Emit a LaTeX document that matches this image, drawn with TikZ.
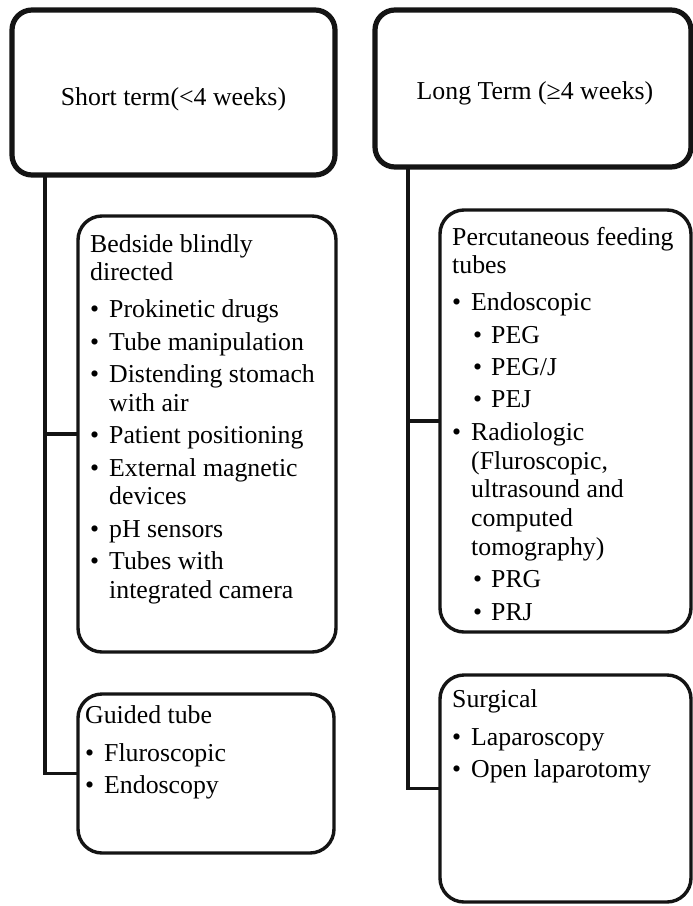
\documentclass[tikz,border=0pt]{standalone}
\usepackage{fontspec}
\setmainfont{Liberation Serif}
% bullet entry, continuation line and nested bullet for the box lists
\newcommand\bitem[1]{\makebox[19pt][l]{\textbullet}#1}
\newcommand\bcont[1]{\hspace*{19pt}#1}
\newcommand\bsub[1]{\hspace*{21pt}\makebox[18pt][l]{\textbullet}#1}
\begin{document}
\begin{tikzpicture}[x=1pt,y=-1pt,
  topbox/.style={draw=black!92, line width=5.2pt, rounded corners=20pt,
    inner sep=0pt, outer sep=0pt, anchor=north west, fill=white},
  subbox/.style={draw=black!92, line width=3.4pt, rounded corners=24pt,
    inner sep=0pt, outer sep=0pt, anchor=north west, fill=white},
  conn/.style={draw=black!92, line width=3.2pt},
  heading/.style={anchor=base, inner sep=0pt, font=\fontsize{25.8}{29}\selectfont},
  listtext/.style={anchor=base west, inner sep=0pt, font=\fontsize{25.8}{28.8}\selectfont}]

\fill[white] (0,0) rectangle (693,906);
\useasboundingbox (0,0) rectangle (693,906);

% trunk positions of the two columns
\coordinate (lx) at (45,0);
\coordinate (rx) at (408,0);

% column heads
\node[topbox, minimum width=323pt, minimum height=165pt] (st) at (12,10) {};
\node[topbox, minimum width=316pt, minimum height=157pt] (lt) at (375,10) {};

% option boxes
\node[subbox, minimum width=258pt, minimum height=436pt] (bed) at (78,216) {};
\node[subbox, minimum width=256pt, minimum height=159pt] (gui) at (78,694) {};
\node[subbox, minimum width=251pt, minimum height=422pt] (per) at (440,210) {};
\node[subbox, minimum width=251pt, minimum height=227pt] (sur) at (440,675) {};

% connectors
\draw[conn] (lx |- st.south) |- (gui.west);
\draw[conn] (lx |- bed.west) -- (bed.west);
\draw[conn] (rx |- lt.south) |- (sur.west);
\draw[conn] (rx |- per.west) -- (per.west);

% headings
\node[heading] (sttext) at (173.5,105) {Short term(<4 weeks)};
\node[heading] (lttext) at (535,99) {Long Term (≥4 weeks)};

% lists
\node[listtext] (bedtext) at (90,252) {\begin{tabular}[t]{@{}l@{}}
Bedside blindly\\
directed\\[8pt]
\bitem{Prokinetic drugs}\\[3.6pt]
\bitem{Tube manipulation}\\[3.6pt]
\bitem{Distending stomach}\\
\bcont{with air}\\[3.6pt]
\bitem{Patient positioning}\\[3.6pt]
\bitem{External magnetic}\\
\bcont{devices}\\[3.6pt]
\bitem{pH sensors}\\[3.6pt]
\bitem{Tubes with}\\
\bcont{integrated camera}
\end{tabular}};

\node[listtext] (guitext) at (85,723) {\begin{tabular}[t]{@{}l@{}}
Guided tube\\[10pt]
\bitem{Fluroscopic}\\[3pt]
\bitem{Endoscopy}
\end{tabular}};

\node[listtext] (pertext) at (452,245) {\begin{tabular}[t]{@{}l@{}}
Percutaneous feeding\\
tubes\\[8pt]
\bitem{Endoscopic}\\[3.6pt]
\bsub{PEG}\\[3.6pt]
\bsub{PEG/J}\\[3.6pt]
\bsub{PEJ}\\[3.6pt]
\bitem{Radiologic}\\
\bcont{(Fluroscopic,}\\
\bcont{ultrasound and}\\
\bcont{computed}\\
\bcont{tomography)}\\[3.6pt]
\bsub{PRG}\\[3.6pt]
\bsub{PRJ}
\end{tabular}};

\node[listtext] (surtext) at (452,707) {\begin{tabular}[t]{@{}l@{}}
Surgical\\[10pt]
\bitem{Laparoscopy}\\[3pt]
\bitem{Open laparotomy}
\end{tabular}};

\end{tikzpicture}
\end{document}
